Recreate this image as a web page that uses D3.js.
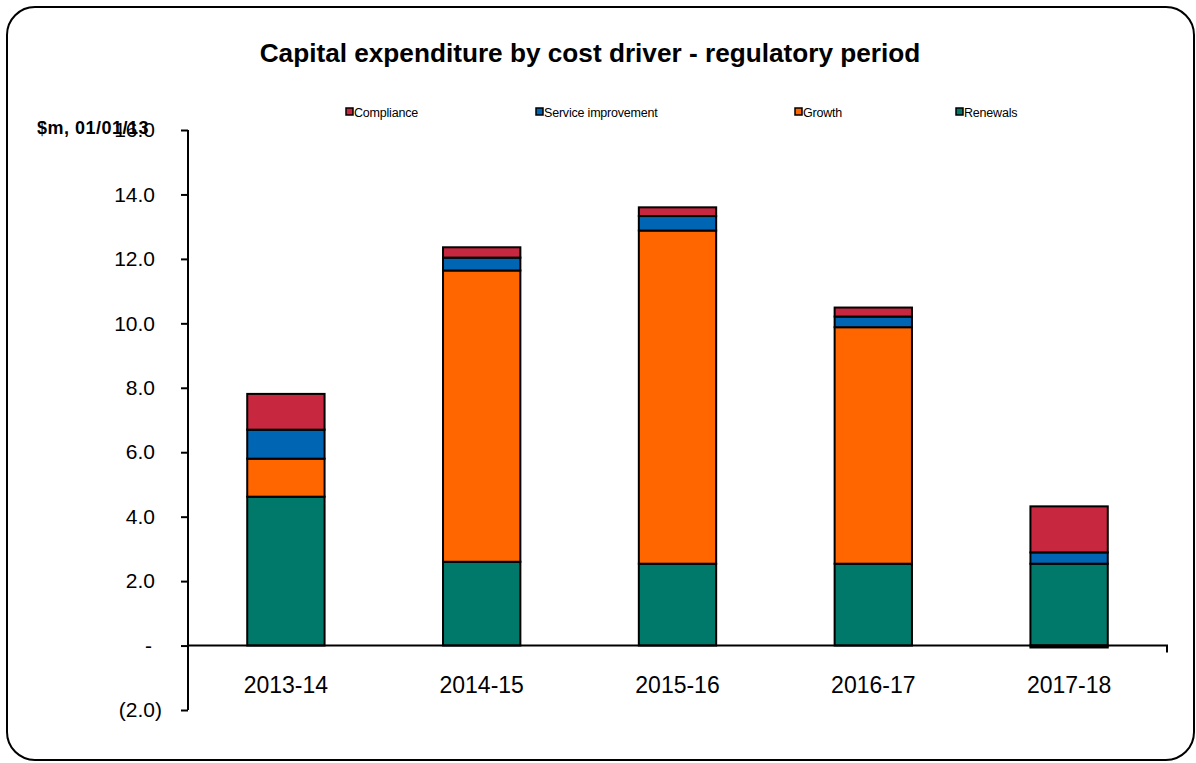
<!DOCTYPE html>
<html><head><meta charset="utf-8">
<script src="https://cdn.jsdelivr.net/npm/d3@7"></script>
<style>body{margin:0;background:#fff;}svg{display:block;font-family:"Liberation Sans",Arial,sans-serif;}</style>
</head><body><svg id="c" width="1196" height="763"></svg>
<script>
const categories = ["2013-14","2014-15","2015-16","2016-17","2017-18"];
const seriesNames = ["Renewals","Growth","Service improvement","Compliance"];
const renewals = [4.62, 2.60, 2.54, 2.54, 2.54];
const growth = [1.18, 9.04, 10.34, 7.34, -0.06];
const service = [0.90, 0.40, 0.45, 0.33, 0.35];
const compliance = [1.11, 0.32, 0.27, 0.28, 1.43];
const yTicks = [-2,0,2,4,6,8,10,12,14,16];
const legendOrder = ["Compliance","Service improvement","Growth","Renewals"];
const colors = {"Renewals":"#00796A","Growth":"#FF6600","Service improvement":"#0066B3","Compliance":"#C8283F"};

const svg = d3.select("#c");
svg.append("rect").attr("x",7).attr("y",7).attr("width",1187).attr("height",753).attr("rx",28)
  .attr("fill","#fff").attr("stroke","#000").attr("stroke-width",2);

const x = d3.scaleBand().domain(categories).range([188,1167]).paddingInner(0.605).paddingOuter(0.3025);
const y = d3.scaleLinear().domain([-2,16]).range([710,130]);

svg.append("text").attr("x",590).attr("y",62).attr("text-anchor","middle")
  .attr("font-size",26.2).attr("font-weight","bold").text("Capital expenditure by cost driver - regulatory period");

// stacked data
const vals = {"Renewals":renewals,"Growth":growth,"Service improvement":service,"Compliance":compliance};
categories.forEach((c,i)=>{
  let pos=0, neg=0;
  seriesNames.forEach(s=>{
    const v = vals[s][i];
    let y0,y1;
    if(v>=0){y0=pos;y1=pos+v;pos=y1;} else {y0=neg+v;y1=neg;neg=y0;}
    svg.append("rect").attr("x",x(c)).attr("width",x.bandwidth())
      .attr("y",y(y1)).attr("height",Math.max(0,y(y0)-y(y1)))
      .attr("fill",colors[s]).attr("stroke","#000").attr("stroke-width",2);
  });
});

// y axis
const yAxis = d3.axisLeft(y).tickValues(yTicks).tickSize(7).tickPadding(26)
  .tickFormat(d=> d===0 ? "-" : d<0 ? "("+Math.abs(d).toFixed(1)+")" : d.toFixed(1));
const ga = svg.append("g").attr("transform","translate(188,0)").call(yAxis);
ga.select(".domain").attr("d","M0,130V710").attr("stroke","#000").attr("stroke-width",2);
ga.selectAll(".tick line").attr("stroke","#000").attr("stroke-width",2);
ga.selectAll(".tick text").attr("font-size",21).attr("fill","#000").attr("font-family","Liberation Sans, Arial, sans-serif");
ga.selectAll(".tick").filter(d=>d===0).select("text").attr("dx",-3);
ga.selectAll(".tick").filter(d=>d<0).select("text").attr("dx",7);

// x axis at zero
const gx = svg.append("g").attr("transform",`translate(0,${y(0)})`).call(d3.axisBottom(x).tickSize(0).tickPadding(31));
gx.select(".domain").attr("d","M188,0H1167V7").attr("stroke","#000").attr("stroke-width",2).attr("fill","none");
gx.selectAll(".tick text").attr("font-size",23).attr("fill","#000").attr("font-family","Liberation Sans, Arial, sans-serif");

// y label
svg.append("text").attr("x",37).attr("y",134).attr("font-size",18).attr("font-weight","bold").attr("letter-spacing",0.5).text("$m, 01/01/13");

// legend
const legX = [346,536,795,956];
legendOrder.forEach((s,i)=>{
  const g = svg.append("g").attr("transform",`translate(${legX[i]},112)`);
  g.append("rect").attr("x",0).attr("y",-4).attr("width",7).attr("height",7).attr("fill",colors[s]).attr("stroke","#000").attr("stroke-width",1.5);
  g.append("text").attr("x",8).attr("y",4.5).attr("font-size",12.5).attr("letter-spacing",-0.2).text(s);
});
</script></body></html>
